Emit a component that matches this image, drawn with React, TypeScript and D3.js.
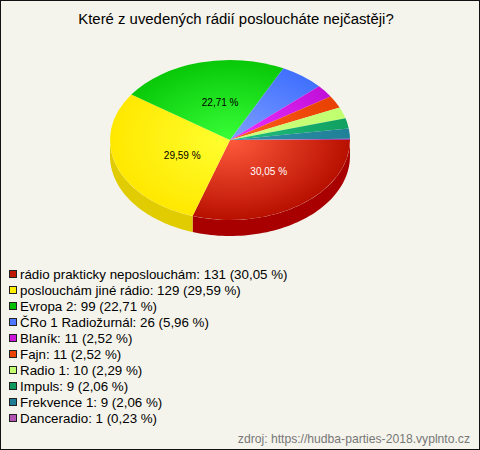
import React from "react";
import * as d3 from "d3";

const title = "Které z uvedených rádií posloucháte nejčastěji?";
const source = "zdroj: https://hudba-parties-2018.vyplnto.cz";
const labels = ["rádio prakticky neposlouchám", "poslouchám jiné rádio", "Evropa 2", "ČRo 1 Radiožurnál", "Blaník", "Fajn", "Radio 1", "Impuls", "Frekvence 1", "Danceradio"];
const counts = [131, 129, 99, 26, 11, 11, 10, 9, 9, 1];
const percents = ["30,05", "29,59", "22,71", "5,96", "2,52", "2,52", "2,29", "2,06", "2,06", "0,23"];
const legendColors = ["#c01800", "#ffee00", "#00c000", "#4f77ff", "#cc16dc", "#ea4400", "#c4ff70", "#0e9a5c", "#1e7c94", "#b454b4"];
const brightColors = ["#ff5a3c", "#ffff30", "#38ff38", "#7f9fff", "#f030ff", "#ff6020", "#d0ff80", "#20c080", "#3090a8", "#c870c8"];
const darkColors = ["#b81000", "#ffe800", "#08c808", "#4070ff", "#c010d8", "#e84000", "#c0ff70", "#10a060", "#208098", "#a040a0"];
const sideColors = ["#a80000", "#e0cc00"];
const labelTexts = ["30,05 %", "29,59 %", "22,71 %"];
const labelColors = ["#ffffff", "#000000", "#000000"];
const labelRadiusX = [0.55, 0.42, 0.33];
const labelRadiusY = [0.48, 0.59, 0.48];

const W = 480, H = 450;
const cx = 230, cy = 140, rx = 120, ry = 80, depth = 16;

export default function App() {
  const pie = d3.pie<number>().sort(null).startAngle(Math.PI / 2).endAngle(Math.PI * 2.5);
  const arcs = pie(counts);
  const arc = d3.arc<d3.PieArcDatum<number>>().innerRadius(0).outerRadius(rx);
  const legendY = d3.scaleLinear().domain([0, 1]).range([274, 290]);
  const sy = ry / rx;

  // Front wall for the part of each slice facing the viewer
  const wall = (a: d3.PieArcDatum<number>) => {
    const s = a.startAngle - Math.PI / 2;
    const e = Math.min(a.endAngle - Math.PI / 2, Math.PI);
    if (s >= Math.PI) return null;
    const pts = d3.range(0, 61).map(i => s + ((e - s) * i) / 60);
    const top = pts.map(t => [cx + rx * Math.cos(t), cy + ry * Math.sin(t)] as [number, number]);
    const bottom = pts.slice().reverse().map(t => [cx + rx * Math.cos(t), cy + ry * Math.sin(t) + depth] as [number, number]);
    return d3.line()([...top, ...bottom]) + "Z";
  };

  return (
    <svg width={W} height={H} style={{ position: "absolute", left: 0, top: 0, display: "block" }} fontFamily="'Liberation Sans', Arial, sans-serif">
      <defs>
        {arcs.map((_, i) => (
          <radialGradient key={i} id={`g${i}`} gradientUnits="userSpaceOnUse" cx={0} cy={0} r={rx}>
            <stop offset="0" stopColor={brightColors[i]} />
            <stop offset="1" stopColor={darkColors[i]} />
          </radialGradient>
        ))}
      </defs>
      <rect x={0.5} y={0.5} width={W - 1} height={H - 1} fill="#f5f4ec" stroke="#111" strokeWidth={1} />
      <text x={236} y={24} textAnchor="middle" fontSize={14.9} fill="#000">{title}</text>
      {arcs.slice(0, 2).map((a, i) => {
        const d = wall(a);
        return d ? <path key={i} d={d} fill={sideColors[i]} /> : null;
      })}
      <g transform={`translate(${cx},${cy}) scale(1,${sy})`}>
        {arcs.map((a, i) => (
          <path key={i} d={arc(a) ?? ""} fill={`url(#g${i})`} />
        ))}
      </g>
      {labelTexts.map((t, i) => {
        const mid = (arcs[i].startAngle + arcs[i].endAngle) / 2 - Math.PI / 2;
        return (
          <text key={i} x={cx + rx * labelRadiusX[i] * Math.cos(mid)} y={cy + ry * labelRadiusY[i] * Math.sin(mid) + 3.5} textAnchor="middle" fontSize={10} fill={labelColors[i]}>{t}</text>
        );
      })}
      {labels.map((l, i) => {
        const y = legendY(i);
        return (
          <g key={i}>
            <rect x={9.5} y={y - 3.5} width={7} height={7} fill={legendColors[i]} stroke="#222" strokeWidth={1} />
            <text x={20} y={y + 5} fontSize={13.33} fill="#000">{`${l}: ${counts[i]} (${percents[i]} %)`}</text>
          </g>
        );
      })}
      <text x={470} y={443} textAnchor="end" fontSize={12.15} fill="#777">{source}</text>
    </svg>
  );
}
